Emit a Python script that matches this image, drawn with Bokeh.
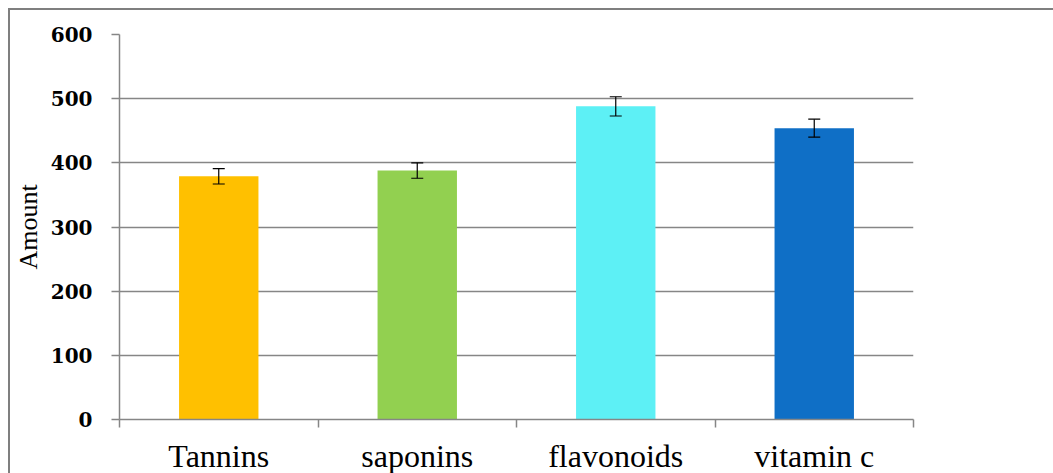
from bokeh.plotting import figure
from bokeh.models import FixedTicker, Range1d, ColumnDataSource, Whisker, TeeHead
from bokeh.embed import file_html
from bokeh.resources import INLINE
import numpy as np

categories = ["Tannins", "saponins", "flavonoids", "vitamin c"]
amounts = [379, 388, 488, 454]
errors = [12, 12, 15, 14]
colors = ["#FFC000", "#92D050", "#5DF0F5", "#0F6FC6"]
y_ticks = [0, 100, 200, 300, 400, 500, 600]

xc = np.arange(len(categories)) + 0.5
src = ColumnDataSource(dict(
    x=xc, top=amounts, color=colors,
    upper=[a + e for a, e in zip(amounts, errors)],
    lower=[a - e for a, e in zip(amounts, errors)],
))

p = figure(output_backend="svg", toolbar_location=None,
           x_range=Range1d(0, len(categories)), y_range=Range1d(0, 600),
           frame_width=794, frame_height=385,
           min_border_left=107, min_border_top=24, min_border_right=140, min_border_bottom=10,
           margin=(8, 0, 0, 8),
           styles={"border-left": "2px solid #7f7f7f", "border-top": "2px solid #7f7f7f"})
p.outline_line_color = None
p.background_fill_color = "white"
p.border_fill_color = "white"

p.vbar(x="x", top="top", width=0.4, color="color", source=src, line_color=None)
w = Whisker(base="x", upper="upper", lower="lower", source=src, level="overlay",
            line_color="black", line_width=1.2,
            upper_head=TeeHead(size=12, line_color="black", line_width=1.2),
            lower_head=TeeHead(size=12, line_color="black", line_width=1.2))
p.add_layout(w)

# y axis
p.yaxis.ticker = FixedTicker(ticks=y_ticks, minor_ticks=[])
p.yaxis.axis_label = "Amount"
p.yaxis.axis_label_text_font = "Liberation Serif"
p.yaxis.axis_label_text_font_size = "26px"
p.yaxis.axis_label_text_font_style = "normal"
p.yaxis.axis_label_text_color = "black"
p.yaxis.axis_label_standoff = 5
p.yaxis.major_label_text_font = "DejaVu Serif"
p.yaxis.major_label_text_font_size = "20px"
p.yaxis.major_label_text_font_style = "bold"
p.yaxis.major_label_text_color = "black"
p.yaxis.major_label_standoff = 19
p.yaxis.major_tick_out = 8
p.yaxis.major_tick_in = 0
p.yaxis.axis_line_color = "#868686"
p.yaxis.axis_line_width = 1.5
p.yaxis.major_tick_line_color = "#868686"
p.yaxis.major_tick_line_width = 1.5

# x axis
p.xaxis.ticker = FixedTicker(ticks=list(xc), minor_ticks=list(range(len(categories) + 1)))
p.xaxis.major_label_overrides = {float(x): c for x, c in zip(xc, categories)}
p.xaxis.major_label_text_font = "Liberation Serif"
p.xaxis.major_label_text_font_size = "32px"
p.xaxis.major_label_text_color = "black"
p.xaxis.major_label_standoff = 10
p.xaxis.major_tick_out = 0
p.xaxis.major_tick_in = 0
p.xaxis.minor_tick_out = 8
p.xaxis.minor_tick_in = 0
p.xaxis.minor_tick_line_color = "#868686"
p.xaxis.minor_tick_line_width = 1.5
p.xaxis.axis_line_color = "#868686"
p.xaxis.axis_line_width = 1.5

p.xgrid.grid_line_color = None
p.ygrid.grid_line_color = "#868686"
p.ygrid.grid_line_width = 1.5

open("out.html", "w").write(file_html(p, INLINE))
